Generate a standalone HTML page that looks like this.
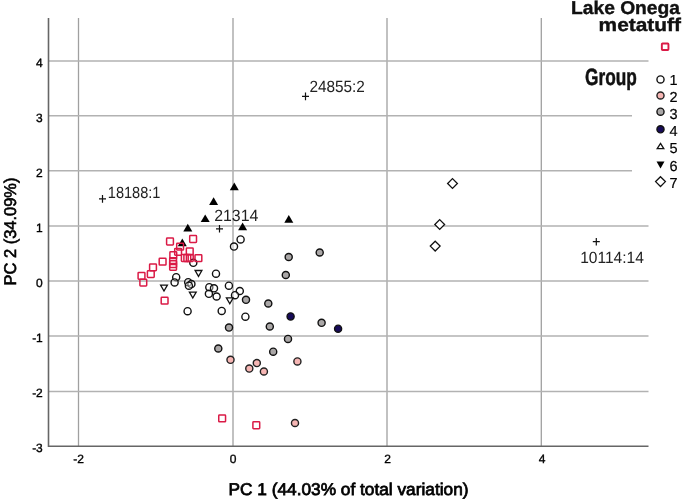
<!DOCTYPE html>
<html><head><meta charset="utf-8"><style>
html,body{margin:0;padding:0;background:#fff;}
svg{display:block;font-family:"Liberation Sans",sans-serif;text-rendering:geometricPrecision;will-change:transform;}
.g{stroke:#a0a0a0;stroke-width:1.3;}
.gh{stroke:#b2b2b2;stroke-width:1.5;}
.ax{stroke:#666;stroke-width:1.6;}
.tk{font-size:12px;fill:#000;stroke:#000;stroke-width:0.35;}
.at{font-size:17px;fill:#000;stroke:#000;stroke-width:0.75;}
.lg{font-size:18.5px;font-weight:bold;fill:#111;stroke:#111;stroke-width:0.4;}
.lg2{font-size:23.5px;font-weight:bold;fill:#111;stroke:#111;stroke-width:0.5;}
.lb{font-size:16.2px;fill:#222;}
.ld{font-size:14.5px;fill:#000;stroke:#000;stroke-width:0.2;}
.sq{fill:none;stroke:#da1a46;stroke-width:1.5;}
.c1{fill:rgba(255,255,255,0.35);stroke:#111;stroke-width:1.4;}
.c2{fill:#f6b6b4;stroke:#222;stroke-width:1.4;}
.c3{fill:#aaa7a7;stroke:#111;stroke-width:1.4;}
.c4{fill:#170b58;stroke:#111;stroke-width:1.4;}
.to{fill:none;stroke:#111;stroke-width:1.3;stroke-linejoin:miter;}
.tf{fill:#000;stroke:none;}
.dm{fill:#fff;stroke:#111;stroke-width:1.3;}
.cr{stroke:#111;stroke-width:1.2;fill:none;}
</style></head><body>
<svg width="685" height="501" viewBox="0 0 685 501">
<line x1="78.5" y1="18" x2="78.5" y2="446" class="g"/>
<line x1="233.0" y1="18" x2="233.0" y2="446" class="g"/>
<line x1="387.0" y1="18" x2="387.0" y2="446" class="g"/>
<line x1="541.3" y1="18" x2="541.3" y2="446" class="g"/>
<line x1="49" y1="391.4" x2="648.5" y2="391.4" class="gh"/>
<line x1="49" y1="336.0" x2="648.5" y2="336.0" class="gh"/>
<line x1="49" y1="281.0" x2="648.5" y2="281.0" class="gh"/>
<line x1="49" y1="225.9" x2="648.5" y2="225.9" class="gh"/>
<line x1="49" y1="170.7" x2="632" y2="170.7" class="gh"/>
<line x1="49" y1="115.7" x2="632" y2="115.7" class="gh"/>
<line x1="49" y1="60.9" x2="648.5" y2="60.9" class="gh"/>
<line x1="48.5" y1="18" x2="48.5" y2="447" class="ax"/>
<line x1="48" y1="446.3" x2="648.5" y2="446.3" class="ax"/>
<text x="42.8" y="66.7" class="tk" text-anchor="end">4</text>
<text x="42.8" y="121.8" class="tk" text-anchor="end">3</text>
<text x="42.8" y="176.8" class="tk" text-anchor="end">2</text>
<text x="42.8" y="231.9" class="tk" text-anchor="end">1</text>
<text x="42.8" y="287.0" class="tk" text-anchor="end">0</text>
<text x="42.8" y="342.1" class="tk" text-anchor="end">-1</text>
<text x="42.8" y="397.2" class="tk" text-anchor="end">-2</text>
<text x="42.8" y="452.2" class="tk" text-anchor="end">-3</text>
<text x="78.5" y="462.8" class="tk" text-anchor="middle">-2</text>
<text x="233.0" y="462.8" class="tk" text-anchor="middle">0</text>
<text x="387.5" y="462.8" class="tk" text-anchor="middle">2</text>
<text x="542.0" y="462.8" class="tk" text-anchor="middle">4</text>
<text x="228.5" y="494.8" class="at" textLength="240" lengthAdjust="spacingAndGlyphs">PC 1 (44.03% of total variation)</text>
<text transform="translate(16.2,285.5) rotate(-90)" class="at" style="stroke-width:0.6" textLength="108" lengthAdjust="spacingAndGlyphs">PC 2 (34.09%)</text>
<text x="571.0" y="13.8" class="lg" textLength="109" lengthAdjust="spacingAndGlyphs">Lake Onega</text>
<text x="598.6" y="31.4" class="lg" textLength="82.3" lengthAdjust="spacingAndGlyphs">metatuff</text>
<text x="585" y="84.8" class="lg2" textLength="51.8" lengthAdjust="spacingAndGlyphs">Group</text>
<circle cx="193.30" cy="262.80" r="3.55" class="c1"/>
<circle cx="176.20" cy="277.20" r="3.55" class="c1"/>
<circle cx="174.60" cy="282.40" r="3.55" class="c1"/>
<circle cx="188.20" cy="282.20" r="3.55" class="c1"/>
<circle cx="191.40" cy="284.10" r="3.55" class="c1"/>
<circle cx="188.90" cy="285.70" r="3.55" class="c1"/>
<circle cx="216.00" cy="273.70" r="3.55" class="c1"/>
<circle cx="209.30" cy="287.20" r="3.55" class="c1"/>
<circle cx="214.00" cy="288.30" r="3.55" class="c1"/>
<circle cx="208.90" cy="293.80" r="3.55" class="c1"/>
<circle cx="216.60" cy="296.50" r="3.55" class="c1"/>
<circle cx="228.90" cy="285.70" r="3.55" class="c1"/>
<circle cx="239.80" cy="291.00" r="3.55" class="c1"/>
<circle cx="235.00" cy="295.20" r="3.55" class="c1"/>
<circle cx="221.70" cy="310.90" r="3.55" class="c1"/>
<circle cx="187.60" cy="311.20" r="3.55" class="c1"/>
<circle cx="245.40" cy="316.70" r="3.55" class="c1"/>
<circle cx="234.00" cy="246.60" r="3.55" class="c1"/>
<circle cx="240.60" cy="239.40" r="3.55" class="c1"/>
<circle cx="288.70" cy="257.00" r="3.55" class="c3"/>
<circle cx="319.70" cy="252.50" r="3.55" class="c3"/>
<circle cx="285.80" cy="275.00" r="3.55" class="c3"/>
<circle cx="246.00" cy="299.80" r="3.55" class="c3"/>
<circle cx="268.30" cy="303.50" r="3.55" class="c3"/>
<circle cx="321.60" cy="322.80" r="3.55" class="c3"/>
<circle cx="288.00" cy="338.90" r="3.55" class="c3"/>
<circle cx="269.80" cy="326.50" r="3.55" class="c3"/>
<circle cx="273.20" cy="351.70" r="3.55" class="c3"/>
<circle cx="229.00" cy="327.60" r="3.55" class="c3"/>
<circle cx="218.30" cy="348.50" r="3.55" class="c3"/>
<circle cx="290.60" cy="316.40" r="3.55" class="c4"/>
<circle cx="338.10" cy="328.70" r="3.55" class="c4"/>
<circle cx="230.50" cy="359.80" r="3.55" class="c2"/>
<circle cx="256.80" cy="363.10" r="3.55" class="c2"/>
<circle cx="249.30" cy="368.60" r="3.55" class="c2"/>
<circle cx="263.90" cy="371.50" r="3.55" class="c2"/>
<circle cx="297.40" cy="361.40" r="3.55" class="c2"/>
<circle cx="295.00" cy="423.00" r="3.55" class="c2"/>
<path d="M160.60 285.10H167.40L164.00 291.00Z" class="to"/>
<path d="M195.10 270.50H201.90L198.50 276.40Z" class="to"/>
<path d="M189.40 292.10H196.20L192.80 298.00Z" class="to"/>
<path d="M226.40 297.90H233.20L229.80 303.80Z" class="to"/>
<path d="M234.30 182.50L238.80 190.20H229.80Z" class="tf"/>
<path d="M213.60 197.20L218.10 204.90H209.10Z" class="tf"/>
<path d="M205.20 214.40L209.70 222.10H200.70Z" class="tf"/>
<path d="M242.60 222.50L247.10 230.20H238.10Z" class="tf"/>
<path d="M187.80 223.70L192.30 231.40H183.30Z" class="tf"/>
<path d="M182.30 238.50L186.80 246.20H177.80Z" class="tf"/>
<path d="M288.80 215.10L293.30 222.80H284.30Z" class="tf"/>
<path d="M452.50 178.60L457.40 183.50L452.50 188.40L447.60 183.50Z" class="dm"/>
<path d="M439.70 219.60L444.60 224.50L439.70 229.40L434.80 224.50Z" class="dm"/>
<path d="M435.20 241.20L440.10 246.10L435.20 251.00L430.30 246.10Z" class="dm"/>
<rect x="166.60" y="238.10" width="6.8" height="6.8" rx="0.7" class="sq"/>
<rect x="189.70" y="235.60" width="6.8" height="6.8" rx="0.7" class="sq"/>
<rect x="176.70" y="243.30" width="6.8" height="6.8" rx="0.7" class="sq"/>
<rect x="174.70" y="248.40" width="6.8" height="6.8" rx="0.7" class="sq"/>
<rect x="169.90" y="251.80" width="6.8" height="6.8" rx="0.7" class="sq"/>
<rect x="169.70" y="257.80" width="6.8" height="6.8" rx="0.7" class="sq"/>
<rect x="169.70" y="260.80" width="6.8" height="6.8" rx="0.7" class="sq"/>
<rect x="169.70" y="263.40" width="6.8" height="6.8" rx="0.7" class="sq"/>
<rect x="186.35" y="247.90" width="6.8" height="6.8" rx="0.7" class="sq"/>
<rect x="181.40" y="254.60" width="6.8" height="6.8" rx="0.7" class="sq"/>
<rect x="183.90" y="254.60" width="6.8" height="6.8" rx="0.7" class="sq"/>
<rect x="186.40" y="254.60" width="6.8" height="6.8" rx="0.7" class="sq"/>
<rect x="195.00" y="254.80" width="6.8" height="6.8" rx="0.7" class="sq"/>
<rect x="159.20" y="258.30" width="6.8" height="6.8" rx="0.7" class="sq"/>
<rect x="149.60" y="263.90" width="6.8" height="6.8" rx="0.7" class="sq"/>
<rect x="147.40" y="270.70" width="6.8" height="6.8" rx="0.7" class="sq"/>
<rect x="138.10" y="272.40" width="6.8" height="6.8" rx="0.7" class="sq"/>
<rect x="139.90" y="279.20" width="6.8" height="6.8" rx="0.7" class="sq"/>
<rect x="161.20" y="297.30" width="6.8" height="6.8" rx="0.7" class="sq"/>
<rect x="218.75" y="415.05" width="6.8" height="6.8" rx="0.7" class="sq"/>
<rect x="252.90" y="421.85" width="6.8" height="6.8" rx="0.7" class="sq"/>
<path d="M99.00 198.90H106.00M102.50 195.10V202.70" class="cr"/>
<path d="M302.00 96.40H309.00M305.50 92.60V100.20" class="cr"/>
<path d="M592.80 241.70H599.80M596.30 237.90V245.50" class="cr"/>
<path d="M216.00 228.80H223.00M219.50 225.00V232.60" class="cr"/>
<text x="107.8" y="198.1" class="lb" textLength="52.6" lengthAdjust="spacingAndGlyphs">18188:1</text>
<text x="309.4" y="92.4" class="lb" textLength="55.5" lengthAdjust="spacingAndGlyphs">24855:2</text>
<text x="580.2" y="262.7" class="lb" textLength="63.6" lengthAdjust="spacingAndGlyphs">10114:14</text>
<text x="214.2" y="220.5" class="lb" textLength="44.2" lengthAdjust="spacingAndGlyphs">21314</text>
<rect x="661.85" y="43.45" width="6.6" height="6.6" rx="0.7" class="sq" style="stroke-width:1.9"/>
<circle cx="660.50" cy="79.40" r="3.55" class="c1"/>
<circle cx="660.50" cy="95.50" r="3.55" class="c2"/>
<circle cx="660.50" cy="111.70" r="3.55" class="c3"/>
<circle cx="660.50" cy="129.30" r="3.55" class="c4"/>
<path d="M660.50 143.40L663.80 148.70H657.20Z" class="to"/>
<path d="M656.50 161.50H664.50L660.50 168.50Z" class="tf"/>
<path d="M660.50 176.70L665.40 181.60L660.50 186.50L655.60 181.60Z" class="dm"/>
<text x="669.4" y="84.8" class="ld">1</text>
<text x="669.4" y="101.5" class="ld">2</text>
<text x="669.4" y="118.5" class="ld">3</text>
<text x="669.4" y="135.6" class="ld">4</text>
<text x="669.4" y="152.6" class="ld">5</text>
<text x="669.4" y="170.5" class="ld">6</text>
<text x="669.4" y="187.7" class="ld">7</text>
</svg>
</body></html>
